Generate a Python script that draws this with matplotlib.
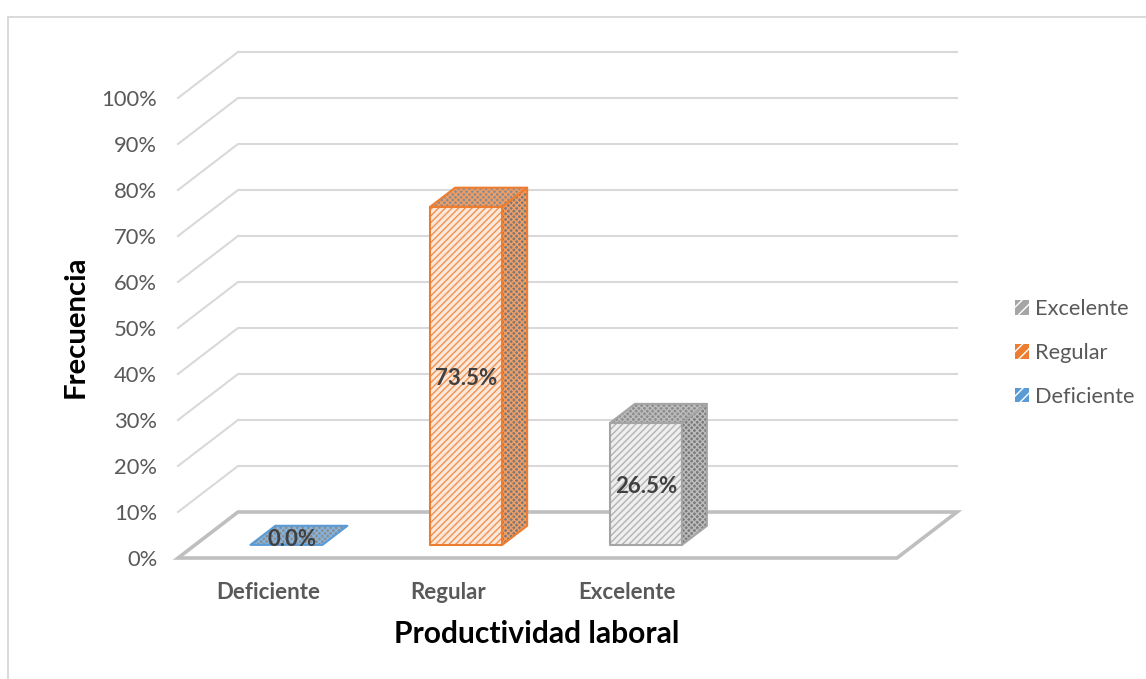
import matplotlib
matplotlib.use("Agg")
import matplotlib.pyplot as plt
from matplotlib.colors import to_rgb
from matplotlib.lines import Line2D
from matplotlib.patches import Patch, Polygon

plt.rcParams["font.family"] = ["Lato", "DejaVu Sans"]
plt.rcParams["hatch.linewidth"] = 1.0

categories = ["Deficiente", "Regular", "Excelente"]
values = [0.0, 73.5, 26.5]
colors = ["#5b9bd5", "#ed7d31", "#a5a5a5"]
y_ticks = list(range(0, 101, 10))
y_tick_labels = [f"{v}%" for v in y_ticks]

W, H = 1146, 679
LEFT, RIGHT, BOTTOM, TOP = 178, 897, 558, 98

# oblique depth of the floor, in data units
DEPTH_X = 60 / 179.75
DEPTH_Y = 46 / 4.6
BAR_WIDTH = 72 / 179.75
BAR_SHIFT = 1.5 / 179.75
Z_FRONT, Z_BACK = 0.285, 0.70
TEXT = "#595959"


def project(x, y, z):
    return x + DEPTH_X * z, y + DEPTH_Y * z


def mix(color, other, amount):
    a, b = to_rgb(color), to_rgb(other)
    return tuple(p * (1 - amount) + q * amount for p, q in zip(a, b))


def face(ax, corners, color, facecolor, hatch_color, hatch, zorder):
    # hatch colour follows edgecolor, so the outline is a separate patch
    ax.add_patch(Polygon(corners, closed=True, facecolor=facecolor, edgecolor=hatch_color,
                         hatch=hatch, lw=0, clip_on=False, zorder=zorder))
    ax.add_patch(Polygon(corners, closed=True, fill=False, edgecolor=color, lw=1.5,
                         joinstyle="round", clip_on=False, zorder=zorder + 0.1))


fig = plt.figure(figsize=(W / 100, H / 100), dpi=100)
ax = fig.add_axes([LEFT / W, 1 - BOTTOM / H, (RIGHT - LEFT) / W, (BOTTOM - TOP) / H])
ax.set_xlim(0, 4)
ax.set_ylim(0, 100)
for spine in ax.spines.values():
    spine.set_visible(False)

ax.set_yticks(y_ticks)
ax.set_yticklabels(y_tick_labels, fontsize=15.8, color=TEXT)
ax.tick_params(axis="y", length=0, pad=15)
ax.set_xticks([i + 0.5 for i in range(len(categories))])
ax.set_xticklabels(categories, fontsize=16, fontweight="bold", color=TEXT)
ax.tick_params(axis="x", length=0, pad=17)
ax.set_xlabel("Productividad laboral", fontsize=21.6, fontweight="bold", color="black")
ax.xaxis.set_label_coords((537 - LEFT) / (RIGHT - LEFT), -(634 - BOTTOM) / (BOTTOM - TOP))
ax.xaxis.label.set_verticalalignment("center")
ax.set_ylabel("Frecuencia", fontsize=21.2, fontweight="bold", color="black")
ax.yaxis.set_label_coords(-(LEFT - 76) / (RIGHT - LEFT), (BOTTOM - 327) / (BOTTOM - TOP))
ax.yaxis.label.set_verticalalignment("center")

# walls
for tick in y_ticks[1:]:
    bx, by = project(0, tick, 1)
    ax.plot([0, bx, 4 + DEPTH_X], [tick, by, by], color="#d9d9d9", lw=1.5, clip_on=False, zorder=1)

# floor
floor = [project(0, 0, 0), project(0, 0, 1), project(4, 0, 1), project(4, 0, 0)]
ax.add_patch(Polygon(floor, closed=True, fill=False, edgecolor="#bfbfbf", lw=2.6,
                     clip_on=False, zorder=2))

# bars
for i, (name, value, color) in enumerate(zip(categories, values, colors)):
    x0 = i + 0.5 - BAR_WIDTH / 2 + BAR_SHIFT
    x1 = i + 0.5 + BAR_WIDTH / 2 + BAR_SHIFT
    a = project(x0, 0, Z_FRONT)
    b = project(x1, 0, Z_FRONT)
    c = project(x1, value, Z_FRONT)
    d = project(x0, value, Z_FRONT)
    e = project(x1, 0, Z_BACK)
    f = project(x1, value, Z_BACK)
    g = project(x0, value, Z_BACK)
    speckle = mix(color, "white", 0.25)
    if value > 0:
        face(ax, [a, b, c, d], color, mix(color, "white", 0.82), mix(color, "white", 0.15), "/////", 3)
        face(ax, [b, e, f, c], color, "#7a7a7a", speckle, "xxxxxx", 3)
    face(ax, [d, c, f, g], color, "#8c8c8c", speckle, "xxxxxx", 3)

    if value > 0:
        label_x, label_y = (a[0] + b[0]) / 2, (a[1] + d[1]) / 2 - 0.5
    else:
        label_x, label_y = project(i + 0.5, 0, 0.41)
    ax.text(label_x, label_y, f"{value:.1f}%", ha="center", va="center", fontsize=16,
            fontweight="bold", color="#404040", zorder=5)

handles = [Patch(facecolor=c, edgecolor="white", hatch="///", lw=0) for c in colors[::-1]]
fig.legend(handles, categories[::-1], loc="center left",
           bbox_to_anchor=(1015 / W, 1 - 353 / H), frameon=False, fontsize=15.7,
           labelcolor=TEXT, handlelength=0.66, handleheight=0.66, handletextpad=0.28,
           labelspacing=1.08, borderpad=0, borderaxespad=0)

# chart frame
frame = "#d9d9d9"
fig.add_artist(Line2D([8 / W, 8 / W], [0, 1 - 17 / H], color=frame, lw=1.4))
fig.add_artist(Line2D([8 / W, 1], [1 - 17 / H, 1 - 17 / H], color=frame, lw=1.4))

fig.savefig("out.png", dpi=100)
